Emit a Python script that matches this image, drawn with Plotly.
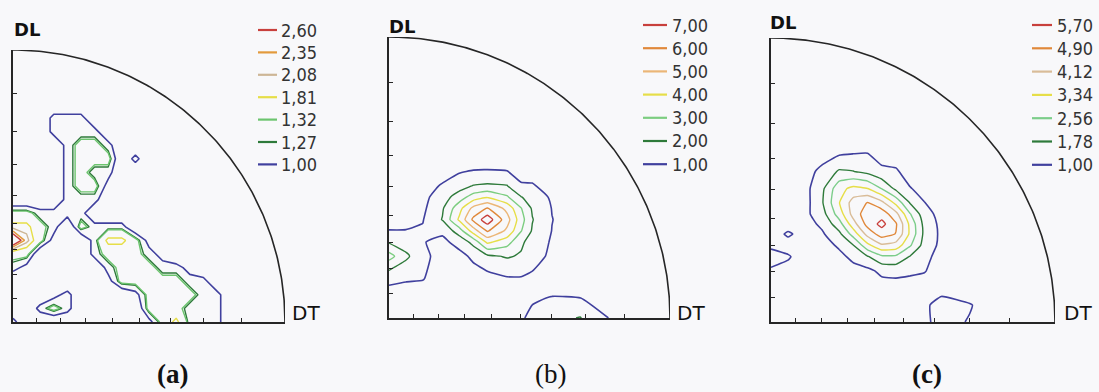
import math
import plotly.graph_objects as go

W, H = 1099, 392

# ---------------- data ----------------
LEVELS_A = [2.60, 2.35, 2.08, 1.81, 1.32, 1.27, 1.00]
LEVELS_B = [7.00, 6.00, 5.00, 4.00, 3.00, 2.00, 1.00]
LEVELS_C = [5.70, 4.90, 4.12, 3.34, 2.56, 1.78, 1.00]

COLORS_A = ["#c8403c", "#e39a3c", "#cdb696", "#e6de48", "#6cc46e", "#2e7a3a", "#40409e"]
COLORS_B = ["#c8403c", "#e0883a", "#ebb677", "#e6de48", "#7ccd80", "#2e7a3a", "#40409e"]
COLORS_C = ["#c8403c", "#e0883a", "#d9bc98", "#e6de48", "#7ccd8a", "#2e7a3a", "#40409e"]

PANEL_TAGS = ["(a)", "(b)", "(c)"]
TICK_ANGLES = [10, 20, 30, 40, 50, 60, 70, 80]

# panel (a): intensity grid, coded per node
GRID_A_X = [0.0, 0.05, 0.10, 0.15, 0.20, 0.25, 0.30, 0.35, 0.40, 0.45, 0.50,
            0.55, 0.60, 0.65, 0.70, 0.75, 0.80, 0.85, 0.90, 0.95, 1.0]
GRID_A_Y = [0.0, 0.05, 0.10, 0.15, 0.20, 0.25, 0.30, 0.35, 0.40, 0.45, 0.50,
            0.55, 0.60, 0.65, 0.70, 0.75, 0.80, 0.85, 0.90, 0.95, 1.0]
CODE_VALUES = {".": 0.6, ":": 0.85, "a": 1.15, "b": 1.45, "c": 1.95,
               "d": 2.2, "e": 2.45, "f": 3.2}
MAP_A = [  # top row = y 1.00, bottom row = y 0.00
    ".....................",
    ".....................",
    ".....................",
    ".....................",
    ".....................",
    "...aaa...............",
    "...aaaa..............",
    "....abba.............",
    "....abbb.a...........",
    "....abaa.............",
    "....abb:.............",
    "....aaa..............",
    "bbaaaa...............",
    "ccba.baaa............",
    "fdb:..accb:..........",
    "bb....abbba:.........",
    "a:.....abbbaa:.......",
    ".......:bbbbbaa......",
    "...:a....:bbbbaa.....",
    "..aba.....bbbaaa.....",
    "a.........:bcaaa.....",
]

# panel (b): intensity grid (rows = y, cols = x)
GRID_B_X = [0, 0.06, 0.12, 0.19, 0.25, 0.30, 0.35, 0.42, 0.47, 0.51, 0.58, 0.68, 0.80, 1.0]
GRID_B_Y = [0, 0.07, 0.14, 0.22, 0.27, 0.31, 0.35, 0.39, 0.43, 0.47, 0.53, 0.65, 0.80, 1.0]
Z_B = [
    [0.5, 0.5, 0.4, 0.4, 0.4, 0.4, 0.4, 0.5, 0.9, 1.2, 1.7, 2.05, 0.8, 0.3],
    [0.6, 0.5, 0.45, 0.4, 0.4, 0.4, 0.45, 0.55, 0.7, 0.9, 1.05, 1.02, 0.5, 0.3],
    [1.2, 1.1, 1.05, 0.5, 0.45, 0.5, 0.6, 0.9, 0.92, 0.8, 0.55, 0.45, 0.4, 0.3],
    [3.4, 2.2, 1.3, 0.55, 0.7, 1.2, 1.8, 2.1, 1.9, 1.4, 0.8, 0.45, 0.4, 0.3],
    [1.9, 1.5, 1.05, 0.75, 1.35, 2.3, 4.2, 3.4, 2.17, 1.6, 0.89, 0.45, 0.4, 0.3],
    [1.05, 1.05, 1.1, 1.2, 2.5, 4.5, 6.1, 4.8, 3.05, 1.9, 0.98, 0.47, 0.4, 0.3],
    [0.5, 0.6, 0.95, 2.05, 4.17, 6.2, 7.6, 5.4, 3.4, 2.05, 1.02, 0.5, 0.3, 0.25],
    [0.45, 0.58, 0.8, 1.88, 3.66, 5.3, 6.08, 4.7, 3.05, 1.88, 0.97, 0.5, 0.3, 0.25],
    [0.4, 0.55, 0.7, 1.56, 2.48, 3.5, 3.93, 3.14, 2.05, 1.56, 0.86, 0.47, 0.3, 0.25],
    [0.4, 0.5, 0.66, 1.08, 1.6, 2.05, 2.15, 2.05, 1.07, 1.08, 0.66, 0.45, 0.3, 0.25],
    [0.35, 0.4, 0.47, 0.6, 0.8, 0.93, 0.96, 0.88, 0.74, 0.6, 0.47, 0.4, 0.3, 0.25],
    [0.3, 0.35, 0.35, 0.35, 0.4, 0.4, 0.4, 0.4, 0.4, 0.35, 0.35, 0.3, 0.3, 0.2],
    [0.3, 0.3, 0.3, 0.3, 0.3, 0.3, 0.3, 0.3, 0.3, 0.3, 0.3, 0.3, 0.3, 0.2],
    [0.2, 0.2, 0.2, 0.2, 0.2, 0.2, 0.2, 0.2, 0.2, 0.2, 0.2, 0.2, 0.2, 0.2],
]

# panel (c): intensity grid (rows = y, cols = x)
GRID_C_X = [0, 0.06, 0.12, 0.18, 0.24, 0.29, 0.34, 0.39, 0.44, 0.49, 0.54, 0.60, 0.70, 0.82, 1.0]
GRID_C_Y = [0, 0.06, 0.12, 0.18, 0.23, 0.27, 0.31, 0.345, 0.38, 0.42, 0.47, 0.53, 0.60, 0.70, 0.85, 1.0]
Z_C = [
    [0.4, 0.4, 0.4, 0.4, 0.4, 0.4, 0.4, 0.4, 0.45, 0.5, 0.85, 1.25, 0.95, 0.4, 0.3],
    [0.4, 0.4, 0.4, 0.4, 0.4, 0.4, 0.4, 0.45, 0.5, 0.55, 0.8, 1.4, 1.05, 0.4, 0.3],
    [0.45, 0.4, 0.4, 0.4, 0.45, 0.5, 0.55, 0.64, 0.66, 0.64, 0.6, 0.6, 0.5, 0.4, 0.3],
    [0.9, 0.7, 0.45, 0.45, 0.6, 0.76, 0.8, 1.19, 1.25, 1.15, 1.05, 0.6, 0.45, 0.4, 0.3],
    [1.3, 1.1, 0.5, 0.6, 0.81, 1.18, 1.71, 2.39, 2.40, 1.72, 1.2, 0.73, 0.45, 0.4, 0.3],
    [0.85, 0.6, 0.55, 0.69, 1.11, 1.75, 3.11, 4.0, 3.81, 2.64, 1.48, 0.81, 0.48, 0.4, 0.3],
    [0.5, 1.15, 0.61, 0.9, 1.59, 2.89, 4.41, 5.27, 4.87, 3.18, 1.60, 0.83, 0.48, 0.4, 0.3],
    [0.42, 0.55, 0.70, 1.15, 2.23, 3.81, 5.17, 5.95, 4.99, 3.13, 1.54, 0.795, 0.47, 0.37, 0.3],
    [0.48, 0.6, 0.8, 1.46, 2.92, 4.42, 5.37, 5.35, 4.38, 2.61, 1.34, 0.715, 0.46, 0.37, 0.3],
    [0.5, 0.6, 0.7, 1.70, 3.31, 4.46, 4.93, 4.33, 3.12, 1.72, 1.02, 0.63, 0.45, 0.37, 0.3],
    [0.5, 0.6, 0.75, 1.6, 3.08, 3.55, 3.34, 2.52, 1.60, 1.04, 0.73, 0.56, 0.45, 0.37, 0.3],
    [0.45, 0.5, 0.7, 1.2, 1.88, 1.80, 1.56, 1.18, 1.1, 0.64, 0.56, 0.45, 0.4, 0.37, 0.3],
    [0.4, 0.4, 0.45, 0.6, 0.8, 0.9, 0.95, 0.6, 0.55, 0.5, 0.45, 0.4, 0.4, 0.35, 0.3],
    [0.4, 0.4, 0.4, 0.4, 0.4, 0.4, 0.4, 0.4, 0.4, 0.4, 0.4, 0.4, 0.35, 0.35, 0.3],
    [0.35, 0.35, 0.35, 0.35, 0.35, 0.35, 0.35, 0.35, 0.35, 0.35, 0.35, 0.35, 0.35, 0.35, 0.3],
    [0.3, 0.3, 0.3, 0.3, 0.3, 0.3, 0.3, 0.3, 0.3, 0.3, 0.3, 0.3, 0.3, 0.3, 0.3],
]

Z_A = [[CODE_VALUES[ch] for ch in row] for row in reversed(MAP_A)]

# ---------------- layout geometry (pixels) ----------------
PANELS = [
    dict(ox=13, oy=322, R=272, xs=GRID_A_X, ys=GRID_A_Y, z=Z_A, levels=LEVELS_A,
         colors=COLORS_A, smooth=0.0,
         leg_x0=258, leg_x1=277, leg_tx=279, leg_y0=30, leg_dy=22.4,
         dl=(12, 29), dt=(290, 313), tag=(172, 374), bold_tag=True),
    dict(ox=389, oy=318, R=281, xs=GRID_B_X, ys=GRID_B_Y, z=Z_B, levels=LEVELS_B,
         colors=COLORS_B, smooth=0.4,
         leg_x0=643, leg_x1=667, leg_tx=670, leg_y0=25, leg_dy=23.2,
         dl=(387, 26), dt=(675, 313), tag=(550, 374), bold_tag=False),
    dict(ox=771, oy=322, R=284, xs=GRID_C_X, ys=GRID_C_Y, z=Z_C, levels=LEVELS_C,
         colors=COLORS_C, smooth=0.4,
         leg_x0=1032, leg_x1=1052, leg_tx=1055, leg_y0=25, leg_dy=23.3,
         dl=(768, 22), dt=(1062, 313), tag=(927, 374), bold_tag=True),
]

AXIS_COLOR = "#262626"
tickvals = [math.tan(math.radians(a / 2.0)) for a in TICK_ANGLES]

fig = go.Figure()
shapes, annotations = [], []
layout_axes = {}


def px(x):
    return x / W


def py(y):
    return 1 - y / H


for k, p in enumerate(PANELS, start=1):
    xname = "x" if k == 1 else f"x{k}"
    yname = "y" if k == 1 else f"y{k}"
    # contour lines, lowest level drawn first
    for lev, col in zip(p["levels"][::-1], p["colors"][::-1]):
        fig.add_trace(go.Contour(
            x=p["xs"], y=p["ys"], z=p["z"], xaxis=xname, yaxis=yname,
            autocontour=False,
            contours=dict(start=lev, end=lev, size=1, coloring="none"),
            line=dict(color=col, width=1.6 if lev == p["levels"][-1] else 1.4,
                      smoothing=p["smooth"]),
            showscale=False, hoverinfo="skip", showlegend=False,
        ))
    # quarter-circle frame
    th = [math.radians(t * 0.5) for t in range(0, 181)]
    fig.add_trace(go.Scatter(
        x=[math.cos(t) for t in th], y=[math.sin(t) for t in th],
        mode="lines", line=dict(color=AXIS_COLOR, width=1.6),
        xaxis=xname, yaxis=yname, cliponaxis=False,
        hoverinfo="skip", showlegend=False,
    ))
    ox, oy, R = p["ox"], p["oy"], p["R"]
    common = dict(range=[0, 1], showline=True, linecolor=AXIS_COLOR, linewidth=1.6,
                  ticks="inside", ticklen=4, tickwidth=1, tickcolor=AXIS_COLOR,
                  tickvals=tickvals, showticklabels=False, showgrid=False,
                  zeroline=False, fixedrange=True)
    layout_axes["xaxis" if k == 1 else f"xaxis{k}"] = dict(
        common, domain=[ox / W, (ox + R) / W], anchor=yname)
    layout_axes["yaxis" if k == 1 else f"yaxis{k}"] = dict(
        common, domain=[(H - oy) / H, (H - oy + R) / H], anchor=xname)

    # legend
    for i, (lev, col) in enumerate(zip(p["levels"], p["colors"])):
        yy = p["leg_y0"] + i * p["leg_dy"]
        shapes.append(dict(type="line", xref="paper", yref="paper",
                           x0=px(p["leg_x0"]), x1=px(p["leg_x1"]), y0=py(yy), y1=py(yy),
                           line=dict(color=col, width=2.2)))
        annotations.append(dict(
            text=f"{lev:.2f}".replace(".", ","), xref="paper", yref="paper",
            x=px(p["leg_tx"]), y=py(yy), xanchor="left", yanchor="middle",
            showarrow=False,
            font=dict(family="DejaVu Sans Condensed, Liberation Sans Narrow, sans-serif",
                      size=18, color="#333333")))
    # axis names
    annotations.append(dict(text="<b>DL</b>", xref="paper", yref="paper",
                            x=px(p["dl"][0]), y=py(p["dl"][1]), xanchor="left",
                            yanchor="middle", showarrow=False,
                            font=dict(family="DejaVu Sans", size=18, color="#111111")))
    annotations.append(dict(text="DT", xref="paper", yref="paper",
                            x=px(p["dt"][0]), y=py(p["dt"][1]), xanchor="left",
                            yanchor="middle", showarrow=False,
                            font=dict(family="DejaVu Sans", size=20, color="#111111")))
    tag = PANEL_TAGS[k - 1]
    annotations.append(dict(text=f"<b>{tag}</b>" if p["bold_tag"] else tag,
                            xref="paper", yref="paper",
                            x=px(p["tag"][0]), y=py(p["tag"][1]), xanchor="center",
                            yanchor="middle", showarrow=False,
                            font=dict(family="Liberation Serif", size=27, color="#111111")))

fig.update_layout(
    width=W, height=H, margin=dict(l=0, r=0, t=0, b=0),
    paper_bgcolor="#f8f8fa", plot_bgcolor="rgba(0,0,0,0)",
    showlegend=False, shapes=shapes, annotations=annotations,
    **layout_axes,
)

fig.write_html(
    "out.html",
    config={"displayModeBar": False, "staticPlot": True},
    post_script="document.body.style.margin='0px';document.body.style.padding='0px';"
                "document.body.style.overflow='hidden';"
                "document.documentElement.style.overflow='hidden';",
)
